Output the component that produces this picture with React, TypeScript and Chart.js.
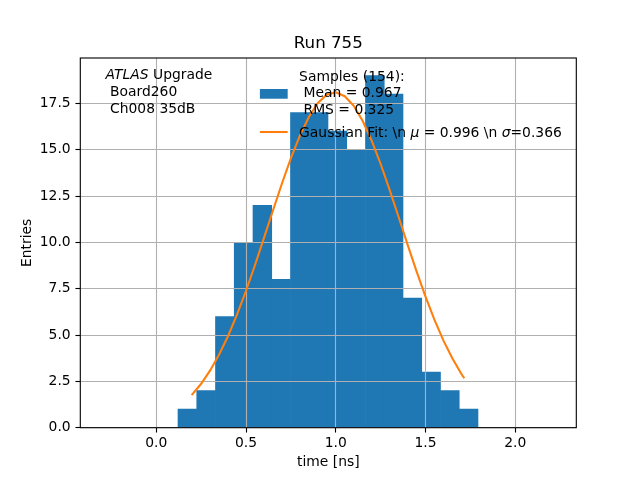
import { useEffect, useRef } from 'react';
import { Chart, registerables } from 'chart.js';

Chart.register(...registerables);

// matplotlib sizes are given in points, the figure is at 100 dpi
const PT = 100 / 72;
const FONT = 'DejaVu Sans';
const FONT_SIZE = 10 * PT;

// histogram
const binEdges = [
  0.1209, 0.2254, 0.3298, 0.4343, 0.5387, 0.6432, 0.7477, 0.8521, 0.9566,
  1.061, 1.1655, 1.27, 1.3744, 1.4789, 1.5833, 1.6878, 1.7922,
];
const binCounts = [1, 2, 6, 10, 12, 8, 17, 17, 16, 15, 19, 18, 7, 3, 2, 1];

// gaussian fit curve
const fitX = [
  0.197, 0.25, 0.3, 0.35, 0.4, 0.45, 0.5, 0.55, 0.6, 0.65, 0.7, 0.75, 0.8,
  0.85, 0.9, 0.95, 1.0, 1.05, 1.1, 1.15, 1.2, 1.25, 1.3, 1.35, 1.4, 1.45, 1.5,
  1.55, 1.6, 1.65, 1.7, 1.716,
];
const fitY = [
  1.76, 2.37, 3.09, 3.95, 4.95, 6.11, 7.39, 8.78, 10.24, 11.72, 13.18, 14.55,
  15.76, 16.77, 17.52, 17.97, 18.1, 17.89, 17.37, 16.55, 15.49, 14.23, 12.83,
  11.37, 9.88, 8.44, 7.07, 5.82, 4.7, 3.73, 2.9, 2.67,
];

const xTicks = [0, 0.5, 1, 1.5, 2];
const yTicks = [0, 2.5, 5, 7.5, 10, 12.5, 15, 17.5];
const xRange = [-0.4234, 2.34];
const yRange = [0, 19.95];

const chartTitle = 'Run 755';
const xLabel = 'time [ns]';
const yLabel = 'Entries';
const boardLines = [' Board260', ' Ch008 35dB'];
const sampleLines = ['Samples (154):', ' Mean = 0.967', ' RMS = 0.325'];
// [text, italic]
const fitLabel: [string, boolean][] = [
  ['Gaussian Fit: \\n ', false],
  ['\u03bc', true],
  [' = 0.996 \\n ', false],
  ['\u03c3', true],
  ['=0.366', false],
];

const BAR_COLOR = '#1f77b4';
const LINE_COLOR = '#ff7f0e';
const GRID_COLOR = '#b0b0b0';

const font = (size: number, italic = false) =>
  `${italic ? 'italic ' : ''}${size}px "${FONT}"`;

const snap = (v: number) => Math.round(v - 0.5) + 0.5;

const overlay = {
  id: 'overlay',
  // grid goes over the bars but under the fit line, like matplotlib
  afterDatasetDraw(chart: any, args: any) {
    if (args.index !== 0) return;
    const { ctx, chartArea: a, scales } = chart;
    ctx.save();
    ctx.strokeStyle = GRID_COLOR;
    ctx.lineWidth = 0.8 * PT;
    ctx.beginPath();
    for (const v of xTicks) {
      const px = snap(scales.x.getPixelForValue(v));
      ctx.moveTo(px, a.top);
      ctx.lineTo(px, a.bottom);
    }
    for (const v of yTicks) {
      const py = snap(scales.y.getPixelForValue(v));
      ctx.moveTo(a.left, py);
      ctx.lineTo(a.right, py);
    }
    ctx.stroke();
    ctx.restore();
  },
  afterDatasetsDraw(chart: any) {
    const { ctx, chartArea: a } = chart;
    ctx.save();

    // spines
    ctx.strokeStyle = '#000';
    ctx.lineWidth = 0.8 * PT;
    ctx.strokeRect(a.left, a.top, a.right - a.left, a.bottom - a.top);

    ctx.fillStyle = '#000';
    ctx.textBaseline = 'alphabetic';

    // title
    ctx.font = font(12 * PT);
    ctx.textAlign = 'center';
    ctx.fillText(chartTitle, (a.left + a.right) / 2, a.top - 9.7);

    // ATLAS label
    ctx.textAlign = 'left';
    let x = a.left + 25.3;
    ctx.font = font(FONT_SIZE, true);
    ctx.fillText('ATLAS', x, a.top + 20.7);
    const w = ctx.measureText('ATLAS').width;
    ctx.font = font(FONT_SIZE);
    ctx.fillText(' Upgrade', x + w, a.top + 20.7);
    boardLines.forEach((line, i) => {
      ctx.fillText(line, x, a.top + 37.7 + i * 17);
    });

    // legend
    const hx = a.left + 179.6;
    const hw = 2 * FONT_SIZE;
    ctx.fillStyle = BAR_COLOR;
    ctx.fillRect(hx, a.top + 31, hw, 0.7 * FONT_SIZE);
    ctx.strokeStyle = LINE_COLOR;
    ctx.lineWidth = 1.5 * PT;
    ctx.beginPath();
    ctx.moveTo(hx, a.top + 74);
    ctx.lineTo(hx + hw, a.top + 74);
    ctx.stroke();

    ctx.fillStyle = '#000';
    const tx = a.left + 218.8;
    sampleLines.forEach((line, i) => {
      ctx.fillText(line, tx, a.top + 22.7 + i * 16.7);
    });
    x = tx;
    for (const [text, italic] of fitLabel) {
      ctx.font = font(FONT_SIZE, italic);
      ctx.fillText(text, x, a.top + 78.5);
      x += ctx.measureText(text).width;
    }

    ctx.restore();
  },
};

export default function App() {
  const chartRef = useRef<HTMLCanvasElement>(null);
  const chartInstance = useRef<Chart | null>(null);

  useEffect(() => {
    if (!chartRef.current) return;

    if (chartInstance.current) {
      chartInstance.current.destroy();
    }

    const ctx = chartRef.current.getContext('2d');
    if (!ctx) return;

    Chart.defaults.font.family = FONT;
    Chart.defaults.font.size = FONT_SIZE;
    Chart.defaults.color = '#000';

    const bars = binCounts.map((count, i) => ({
      x: (binEdges[i] + binEdges[i + 1]) / 2,
      y: count,
    }));
    const fit = fitX.map((x, i) => ({ x, y: fitY[i] }));

    const tickGrid = {
      display: true,
      drawOnChartArea: false,
      drawTicks: true,
      tickLength: 3.5 * PT,
      tickWidth: 0.8 * PT,
      tickColor: '#000',
      color: GRID_COLOR,
      offset: false,
    };

    chartInstance.current = new Chart(ctx, {
      type: 'bar',
      data: {
        datasets: [
          {
            type: 'bar',
            data: bars,
            backgroundColor: BAR_COLOR,
            borderWidth: 0,
            barPercentage: 1,
            categoryPercentage: 1,
            order: 2,
          },
          {
            type: 'line',
            data: fit,
            borderColor: LINE_COLOR,
            borderWidth: 1.5 * PT,
            pointRadius: 0,
            fill: false,
            tension: 0,
            order: 1,
          },
        ],
      },
      options: {
        responsive: false,
        animation: false,
        events: [],
        layout: { padding: { left: 0, right: 63.7, top: 58, bottom: 0 } },
        plugins: {
          legend: { display: false },
          title: { display: false },
          tooltip: { enabled: false },
        },
        scales: {
          x: {
            type: 'linear',
            offset: false,
            min: xRange[0],
            max: xRange[1],
            grid: tickGrid,
            border: { display: false },
            afterBuildTicks: (scale: any) => {
              scale.ticks = xTicks.map((value) => ({ value }));
            },
            afterFit: (scale: any) => {
              scale.height = 52.3;
            },
            ticks: {
              padding: 2.6,
              maxRotation: 0,
              callback: (v: any) => Number(v).toFixed(1),
            },
            title: {
              display: true,
              text: xLabel,
              padding: { top: 0, bottom: 8.8 },
            },
          },
          y: {
            type: 'linear',
            min: yRange[0],
            max: yRange[1],
            grid: tickGrid,
            border: { display: false },
            afterBuildTicks: (scale: any) => {
              scale.ticks = yTicks.map((value) => ({ value }));
            },
            afterFit: (scale: any) => {
              scale.width = 80.3;
            },
            ticks: {
              padding: 4.8,
              callback: (v: any) => Number(v).toFixed(1),
            },
            title: {
              display: true,
              text: yLabel,
              padding: { top: 19.2, bottom: 0 },
            },
          },
        },
      },
      plugins: [overlay],
    } as any);

    return () => {
      if (chartInstance.current) {
        chartInstance.current.destroy();
        chartInstance.current = null;
      }
    };
  }, []);

  return (
    <div style={{ position: 'fixed', left: 0, top: 0, width: 640, height: 480, background: '#fff' }}>
      <canvas ref={chartRef} width={640} height={480} />
    </div>
  );
}
